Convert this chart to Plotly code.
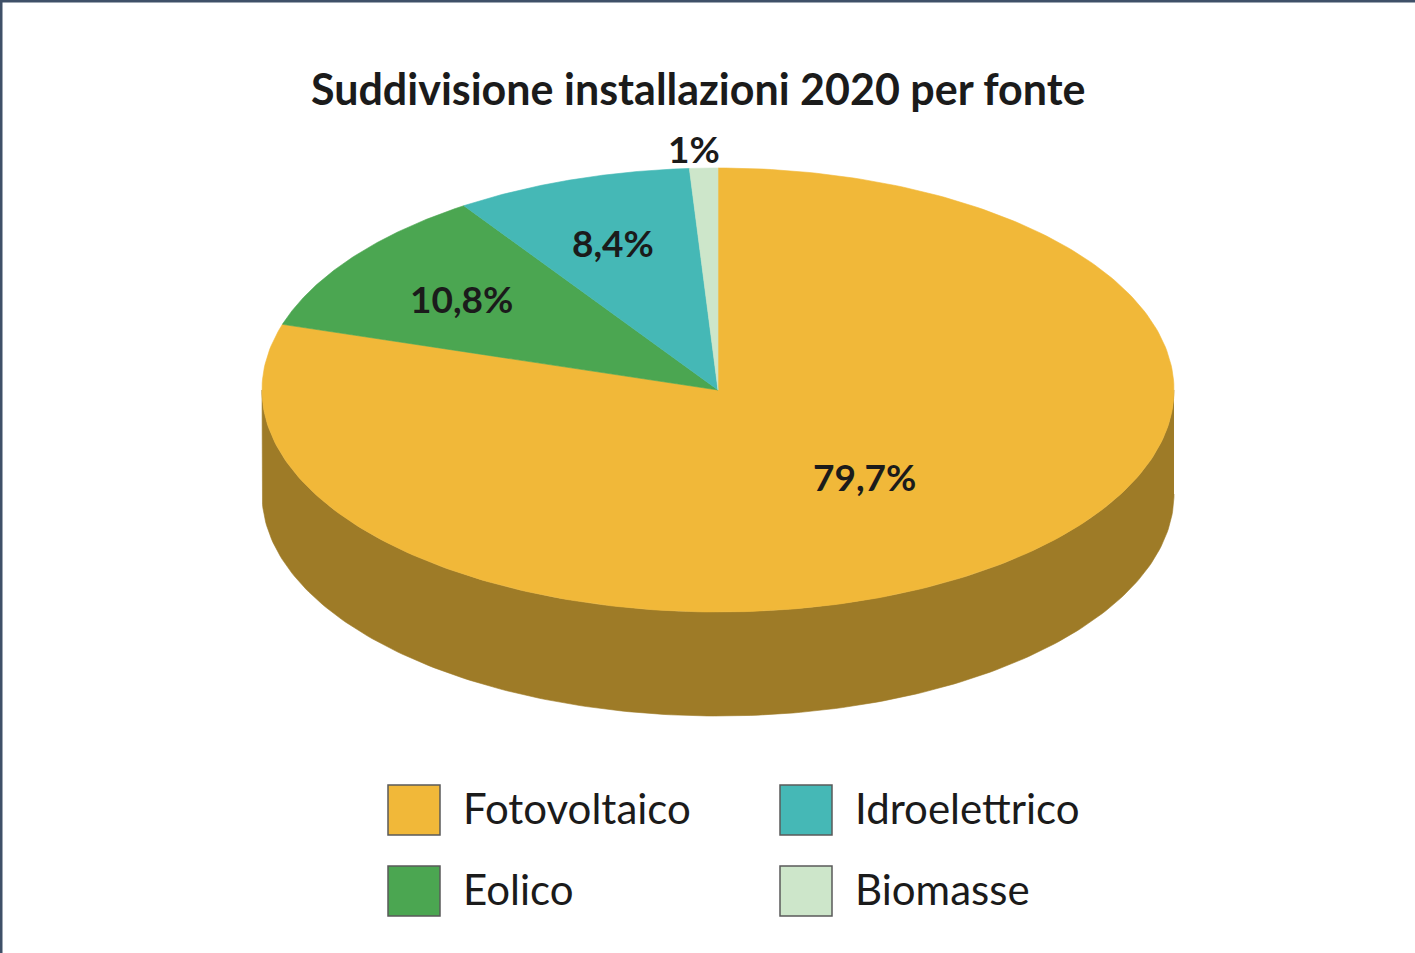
import numpy as np
import plotly.graph_objects as go

# --- data -------------------------------------------------------------
sources = ["Fotovoltaico", "Eolico", "Idroelettrico", "Biomasse"]
shares = [79.7, 10.8, 8.4, 1.0]
share_labels = ["79,7%", "10,8%", "8,4%", "1%"]
title_text = "Suddivisione installazioni 2020 per fonte"

# --- style ------------------------------------------------------------
top_colors = ["#F1B839", "#4BA651", "#45B8B6", "#CDE6CA"]
side_colors = ["#9E7B27", "#2F6E33", "#2D7A78", "#8FA78C"]
label_radius = [0.52, 0.69, 0.70, 1.08]
label_dx = [6, -4, -2, -9]
label_dy = [-6, 0, 0, -2]

W, H = 1415, 953
CX, CY = 718, 390          # centre of the top face
RX, RY = 456, 222          # ellipse radii of the top face
DEPTH = 104                # thickness of the disc
FONT = "Lato"

fig = go.Figure()


def rim(theta_deg, dy=0.0):
    t = np.radians(theta_deg)
    return CX + RX * np.sin(t), CY - RY * np.cos(t) + dy


total = sum(shares)
bounds = np.concatenate([[0.0], np.cumsum(shares) / total * 360.0])

# visible side walls (front half of the disc: 90..270 degrees)
for i in range(len(shares)):
    a, b = max(bounds[i], 90.0), min(bounds[i + 1], 270.0)
    if b <= a:
        continue
    th = np.linspace(a, b, 200)
    xt, yt = rim(th)
    xb, yb = rim(th[::-1], DEPTH)
    fig.add_trace(go.Scatter(
        x=np.concatenate([xt, xb]), y=np.concatenate([yt, yb]),
        fill="toself", fillcolor=side_colors[i], mode="lines",
        line=dict(width=0.6, color=side_colors[i]),
        hoverinfo="skip", showlegend=False))

# top faces
for i in range(len(shares)):
    th = np.linspace(bounds[i], bounds[i + 1], 300)
    xs, ys = rim(th)
    fig.add_trace(go.Scatter(
        x=np.concatenate([[CX], xs, [CX]]), y=np.concatenate([[CY], ys, [CY]]),
        fill="toself", fillcolor=top_colors[i], mode="lines",
        line=dict(width=0.6, color=top_colors[i]),
        hoverinfo="skip", showlegend=False))

# percentage labels
for i in range(len(shares)):
    mid = np.radians((bounds[i] + bounds[i + 1]) / 2)
    r = label_radius[i]
    fig.add_annotation(
        x=CX + RX * r * np.sin(mid) + label_dx[i],
        y=CY - RY * r * np.cos(mid) + label_dy[i],
        text=f"<b>{share_labels[i]}</b>", showarrow=False,
        font=dict(family=FONT, size=37, color="#1b1b1b"))

# legend: two columns, two rows (filled column by column)
col_x = [388, 780]
row_y = [785, 866]
BOX_W, BOX_H = 52, 50
legend_slots = [(0, 0), (0, 1), (1, 0), (1, 1)]
for i, name in enumerate(sources):
    c, r = legend_slots[i]
    x0, y0 = col_x[c], row_y[r]
    fig.add_shape(type="rect", x0=x0, x1=x0 + BOX_W, y0=y0, y1=y0 + BOX_H,
                  xref="x", yref="y", fillcolor=top_colors[i],
                  line=dict(color="#5a5a5a", width=1.5))
    fig.add_annotation(x=x0 + BOX_W + 21, y=y0 + BOX_H / 2 - 2, text=name,
                       xanchor="left", showarrow=False,
                       font=dict(family=FONT, size=42, color="#1b1b1b"))

# title
fig.add_annotation(x=698, y=88, text=f"<b>{title_text}</b>", showarrow=False,
                   font=dict(family=FONT, size=43, color="#1b1b1b"))

# frame lines along the top and left edges
fig.add_shape(type="rect", x0=0, x1=W, y0=0, y1=2.5, xref="x", yref="y",
              fillcolor="#3F5068", line=dict(width=0))
fig.add_shape(type="rect", x0=0, x1=2.5, y0=0, y1=H, xref="x", yref="y",
              fillcolor="#3F5068", line=dict(width=0))

fig.update_layout(
    width=W, height=H, margin=dict(l=0, r=0, t=0, b=0),
    paper_bgcolor="white", plot_bgcolor="white", showlegend=False,
    xaxis=dict(range=[0, W], visible=False, fixedrange=True),
    yaxis=dict(range=[H, 0], visible=False, fixedrange=True),
)

fig.write_html("out.html")
